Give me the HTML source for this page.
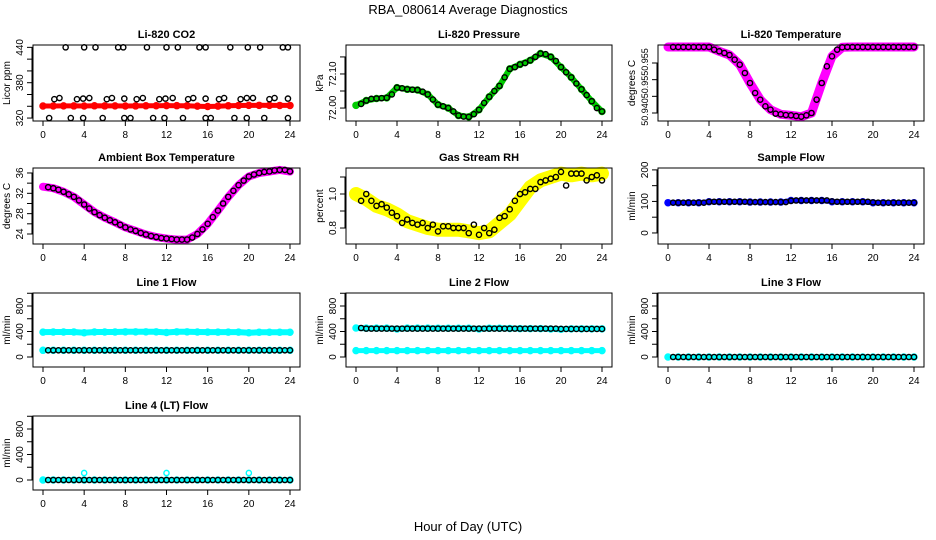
<!DOCTYPE html>
<html><head><meta charset="utf-8">
<style>
html,body{margin:0;padding:0;background:#fff;}
svg{display:block;font-family:"Liberation Sans",Arial,sans-serif;}
</style></head>
<body>
<svg id="chart" width="936" height="540" viewBox="0 0 936 540" xmlns="http://www.w3.org/2000/svg">
<text x="468" y="14" font-size="13" text-anchor="middle">RBA_080614  Average Diagnostics</text>
<text x="468" y="531" font-size="13" text-anchor="middle">Hour of Day (UTC)</text>
</svg>
<script>
// ---- data ----
const hourly = [0,1,2,3,4,5,6,7,8,9,10,11,12,13,14,15,16,17,18,19,20,21,22,23,24];
const halfHours = [0.5,1,1.5,2,2.5,3,3.5,4,4.5,5,5.5,6,6.5,7,7.5,8,8.5,9,9.5,10,10.5,11,11.5,12,12.5,13,13.5,14,14.5,15,15.5,16,16.5,17,17.5,18,18.5,19,19.5,20,20.5,21,21.5,22,22.5,23,23.5,24];
const xTicks = [0,4,8,12,16,20,24];

const co2Red = [340.5,340.5,340.7,340.6,340.5,340.8,340.6,340.7,340.5,340.6,340.8,340.9,341.2,341,340.8,340.2,339.6,340.2,340.8,341.3,341.5,341.6,341.5,341.4,341.4];
const co2BlackHours = [1.1,1.6,3.3,3.9,4.5,6.2,6.7,7.9,9.1,9.7,11.3,11.9,12.6,14.1,14.6,15.8,17.1,17.6,19.2,19.8,20.4,22.0,22.5,23.8,2.2,4,5.1,7.3,7.8,10.1,12,13.1,15.2,15.8,18.2,19.9,21.1,23.3,23.8,0.6,2.7,3.9,5.8,7.9,8.5,10.7,11.8,13.6,15.8,16.3,18.6,19.8,21.5,23.8];
const co2Black = [352,354,352,353,354,352,354,353,352,354,352,353,354,352,354,353,352,354,352,354,354,352,354,353,440,440,440,440,440,440,440,440,440,440,440,440,440,440,440,320,320,320,320,320,320,320,320,320,320,320,320,320,320,320];

const presGreen = [72.008,72.022,72.028,72.03,72.06,72.055,72.053,72.04,72.01,72.0,71.978,71.974,71.995,72.033,72.065,72.115,72.128,72.14,72.16,72.15,72.12,72.09,72.055,72.02,71.99];
const presBlack = [72.012,72.022,72.027,72.028,72.029,72.03,72.04,72.06,72.058,72.055,72.054,72.053,72.048,72.04,72.025,72.01,72.005,72.0,71.99,71.978,71.975,71.974,71.982,71.995,72.015,72.033,72.05,72.065,72.09,72.115,72.12,72.128,72.132,72.14,72.15,72.16,72.158,72.15,72.138,72.12,72.105,72.09,72.072,72.055,72.038,72.02,72.0,71.99];

const tempMag = [50.9598,50.9598,50.9598,50.9598,50.9598,50.9585,50.9574,50.9545,50.949,50.944,50.941,50.9396,50.9393,50.9389,50.940,50.949,50.957,50.9597,50.9598,50.9598,50.9598,50.9598,50.9598,50.9598,50.9598];
const tempBlack = [50.9598,50.9598,50.9598,50.9598,50.9598,50.9598,50.9598,50.9598,50.959,50.9585,50.958,50.9574,50.956,50.9545,50.952,50.949,50.946,50.944,50.942,50.941,50.9398,50.9396,50.9394,50.9393,50.9391,50.9389,50.9393,50.940,50.944,50.949,50.954,50.957,50.959,50.9597,50.9598,50.9598,50.9598,50.9598,50.9598,50.9598,50.9598,50.9598,50.9598,50.9598,50.9598,50.9598,50.9598,50.9598];

const ambMag = [33.3,33.0,32.3,31.3,29.8,28.3,27.2,26.3,25.3,24.6,23.9,23.4,23.1,22.9,22.9,24.0,26.0,28.6,31.3,33.6,35.3,36.0,36.3,36.6,36.3];
const ambBlack = [33.2,33.0,32.7,32.3,31.8,31.3,30.6,29.8,29.0,28.3,27.7,27.2,26.7,26.3,25.8,25.3,24.9,24.6,24.2,23.9,23.6,23.4,23.2,23.1,23.0,22.9,22.9,22.9,23.3,24.0,24.9,26.0,27.3,28.6,30.0,31.3,32.5,33.6,34.5,35.3,35.7,36.0,36.2,36.3,36.5,36.6,36.6,36.3];

const rhYellow = [1.0,0.97,0.93,0.91,0.88,0.84,0.82,0.80,0.79,0.79,0.79,0.78,0.77,0.78,0.83,0.88,0.96,1.04,1.08,1.10,1.12,1.11,1.12,1.11,1.12];
const rhBlack = [0.96,1.0,0.96,0.93,0.94,0.92,0.89,0.87,0.83,0.85,0.83,0.82,0.83,0.80,0.82,0.78,0.81,0.81,0.80,0.80,0.80,0.77,0.82,0.76,0.80,0.77,0.79,0.86,0.87,0.91,0.96,1.00,1.01,1.03,1.03,1.07,1.08,1.09,1.10,1.13,1.05,1.12,1.12,1.12,1.08,1.10,1.11,1.08];

const sampleBlue = [96,96,96,96,99,99,99,99,98,98,98,98,103,103,103,103,99,99,99,99,96,96,96,96,96];
const sampleBlack = [96,96,96,96,96,96,96,99,99,99,99,99,99,99,99,98,98,98,98,98,98,98,98,102,103,103,103,103,103,103,103,100,99,99,99,99,99,99,99,97,96,96,96,96,96,96,96,96];

const line1CyanHigh = [390,392,392,392,380,392,392,392,395,395,395,395,385,395,395,392,390,390,390,390,380,388,388,388,388];
const line1CyanLow = [105,105,105,105,105,105,105,105,105,105,105,105,105,105,105,105,105,105,105,105,105,105,105,105,105];
const line1Black = [105,105,105,105,105,105,105,105,105,105,105,105,105,105,105,105,105,105,105,105,105,105,105,105,105,105,105,105,105,105,105,105,105,105,105,105,105,105,105,105,105,105,105,105,105,105,105,105];

const line2CyanHigh = [455,452,452,452,440,452,452,452,450,450,450,450,440,450,450,448,446,446,446,440,435,442,442,442,442];
const line2CyanLow = [100,100,100,100,100,100,100,100,100,100,100,100,100,100,100,100,100,100,100,100,100,100,100,100,100];
const line2Black = [455,445,445,445,445,445,445,445,445,445,445,445,445,445,445,445,445,445,445,445,445,445,445,445,445,445,445,445,445,445,445,445,445,445,445,445,445,445,445,440,440,440,440,440,440,440,440,440];

const line3Cyan = [0,0,0,0,0,0,0,0,0,0,0,0,0,0,0,0,0,0,0,0,0,0,0,0,0];
const line3Black = [0,0,0,0,0,0,0,0,0,0,0,0,0,0,0,0,0,0,0,0,0,0,0,0,0,0,0,0,0,0,0,0,0,0,0,0,0,0,0,0,0,0,0,0,0,0,0,0];

const line4Cyan = [0,0,0,0,0,0,0,0,0,0,0,0,0,0,0,0,0,0,0,0,0,0,0,0,0];
const line4SpikeHours = [4,12,20];
const line4Spikes = [110,110,110];
const line4Black = [0,0,0,0,0,0,0,0,0,0,0,0,0,0,0,0,0,0,0,0,0,0,0,0,0,0,0,0,0,0,0,0,0,0,0,0,0,0,0,0,0,0,0,0,0,0,0,0];

// ---- layout ----
const svg = document.getElementById('chart');
const NS = 'http://www.w3.org/2000/svg';
const cols = [[33,300],[346,612],[658,924]];
const rows = [[45,121],[168,244],[293,367],[416,490]];

function mk(tag, attrs, parent){
  const e = document.createElementNS(NS, tag);
  for (const k in attrs) e.setAttribute(k, attrs[k]);
  (parent||svg).appendChild(e);
  return e;
}

function panel(p){
  const [L,R] = cols[p.col], [T,B] = rows[p.row];
  const g = mk('g', {});
  
  
  const xs = h => (L+10) + h/24*((R-10)-(L+10));
  const ys = v => B - (v - p.ylo)/(p.yhi - p.ylo)*(B-T);
  p.bands.forEach(b => {
    const pts = b.x.map((h,i)=> xs(h).toFixed(1)+','+ys(b.y[i]).toFixed(1)).join(' ');
    const pl = mk('polyline', {points:pts, fill:'none', stroke:b.color, 'stroke-width':b.w, 'stroke-linejoin':'round','stroke-linecap':'round'}, g);
    
    
    b.x.forEach((h,i)=>{
      const c = mk('circle', {cx:xs(h), cy:ys(b.y[i]), r:3, fill:'none', stroke:b.color, 'stroke-width':1.5}, g);
      
      
    });
  });
  p.pts.forEach(s => {
    s.x.forEach((h,i)=>{
      const c = mk('circle', {cx:xs(h), cy:ys(s.y[i]), r:2.6, fill:'none', stroke:s.color, 'stroke-width':1.4}, g);
      
      
    });
  });
  const bx = mk('rect', {x:L, y:T, width:R-L, height:B-T, fill:'none', stroke:'#000', 'stroke-width':1}, g);
  
  
  const t = mk('text', {x:(L+R)/2, y:T-7, 'font-size':11, 'font-weight':'bold', 'text-anchor':'middle'}, g);
  t.textContent = p.title;
  
  
  mk('line', {x1:xs(0), x2:xs(24), y1:B, y2:B, stroke:'#000'}, g);
  xTicks.forEach(h=>{
    mk('line', {x1:xs(h), x2:xs(h), y1:B, y2:B+5, stroke:'#000'}, g);
    const tl = mk('text', {x:xs(h), y:B+17, 'font-size':10, 'text-anchor':'middle'}, g);
    tl.textContent = h;
    
    
  });
  mk('line', {x1:L-1, x2:L-1, y1:ys(p.ticks[0]), y2:ys(p.ticks[p.ticks.length-1]), stroke:'#000'}, g);
  p.ticks.forEach(v=>{
    mk('line', {x1:L-6, x2:L, y1:ys(v), y2:ys(v), stroke:'#000'}, g);
  });
  const fs = p.labelFont || 10;
  p.labels.forEach((lab,i)=>{
    const yy = p.labelPos ? p.labelPos[i] : ys(lab);
    const tl = mk('text', {x:L-10, y:yy, 'font-size':fs, 'text-anchor':'middle', transform:'rotate(-90 '+(L-10)+' '+yy+')'}, g);
    tl.textContent = p.labelText ? p.labelText[i] : lab;
    
    
  });
  const yt = mk('text', {x:L-23, y:(T+B)/2, 'font-size':10, 'text-anchor':'middle', transform:'rotate(-90 '+(L-23)+' '+((T+B)/2)+')'}, g);
  yt.textContent = p.ylab;
  
  
}

const flowTicks = [0,200,400,600,800,1000];
const flowLabels = [0,400,800];

panel({id:'co2', col:0,row:0, title:'Li-820 CO2', ylab:'Licor ppm', ylo:315, yhi:444,
  ticks:[320,340,360,380,400,420,440], labels:[320,380,440],
  bands:[{x:hourly,y:co2Red,color:'#ff0000',w:5}],
  pts:[{x:co2BlackHours,y:co2Black,color:'#000'}]});
panel({id:'pressure', col:1,row:0, title:'Li-820 Pressure', ylab:'kPa', ylo:71.962, yhi:72.185,
  ticks:[72.00,72.05,72.10,72.15], labels:[72.00,72.10], labelText:['72.00','72.10'],
  bands:[{x:hourly,y:presGreen,color:'#00cc00',w:6}],
  pts:[{x:halfHours,y:presBlack,color:'#000'}]});
panel({id:'li820-temp', col:2,row:0, title:'Li-820 Temperature', ylab:'degrees C', ylo:50.9376, yhi:50.9604,
  ticks:[50.940,50.945,50.950,50.955], labels:[50.940,50.95,50.955], labelText:['50.940','50.95','50.955'], labelPos:[112,87,62], labelFont:9,
  bands:[{x:hourly,y:tempMag,color:'#ff00ff',w:9}],
  pts:[{x:halfHours,y:tempBlack,color:'#000'}]});
panel({id:'ambient-temp', col:0,row:1, title:'Ambient Box Temperature', ylab:'degrees C', ylo:22.03, yhi:36.98,
  ticks:[24,26,28,30,32,34,36], labels:[24,28,32,36],
  bands:[{x:hourly,y:ambMag,color:'#ff00ff',w:8}],
  pts:[{x:halfHours,y:ambBlack,color:'#000'}]});
panel({id:'rh', col:1,row:1, title:'Gas Stream RH', ylab:'percent', ylo:0.706, yhi:1.153,
  ticks:[0.8,0.9,1.0,1.1], labels:[0.8,1.0], labelText:['0.8','1.0'],
  bands:[{x:hourly,y:rhYellow,color:'#ffff00',w:14}],
  pts:[{x:halfHours,y:rhBlack,color:'#000'}]});
panel({id:'sample-flow', col:2,row:1, title:'Sample Flow', ylab:'ml/min', ylo:-35, yhi:206,
  ticks:[0,50,100,150,200], labels:[0,100,200],
  bands:[{x:hourly,y:sampleBlue,color:'#0000ff',w:5}],
  pts:[{x:halfHours,y:sampleBlack,color:'#000'}]});
panel({id:'line1-flow', col:0,row:2, title:'Line 1 Flow', ylab:'ml/min', ylo:-157, yhi:1004,
  ticks:flowTicks, labels:flowLabels,
  bands:[{x:hourly,y:line1CyanHigh,color:'#00ffff',w:6},{x:hourly,y:line1CyanLow,color:'#00ffff',w:5}],
  pts:[{x:halfHours,y:line1Black,color:'#000'}]});
panel({id:'line2-flow', col:1,row:2, title:'Line 2 Flow', ylab:'ml/min', ylo:-157, yhi:1004,
  ticks:flowTicks, labels:flowLabels,
  bands:[{x:hourly,y:line2CyanHigh,color:'#00ffff',w:6},{x:hourly,y:line2CyanLow,color:'#00ffff',w:5}],
  pts:[{x:halfHours,y:line2Black,color:'#000'}]});
panel({id:'line3-flow', col:2,row:2, title:'Line 3 Flow', ylab:'ml/min', ylo:-157, yhi:1004,
  ticks:flowTicks, labels:flowLabels,
  bands:[{x:hourly,y:line3Cyan,color:'#00ffff',w:5}],
  pts:[{x:halfHours,y:line3Black,color:'#000'}]});
panel({id:'line4-flow', col:0,row:3, title:'Line 4 (LT) Flow', ylab:'ml/min', ylo:-157, yhi:1004,
  ticks:flowTicks, labels:flowLabels,
  bands:[{x:hourly,y:line4Cyan,color:'#00ffff',w:5}],
  pts:[{x:line4SpikeHours,y:line4Spikes,color:'#00ffff'},{x:halfHours,y:line4Black,color:'#000'}]});
</script>
</body></html>
